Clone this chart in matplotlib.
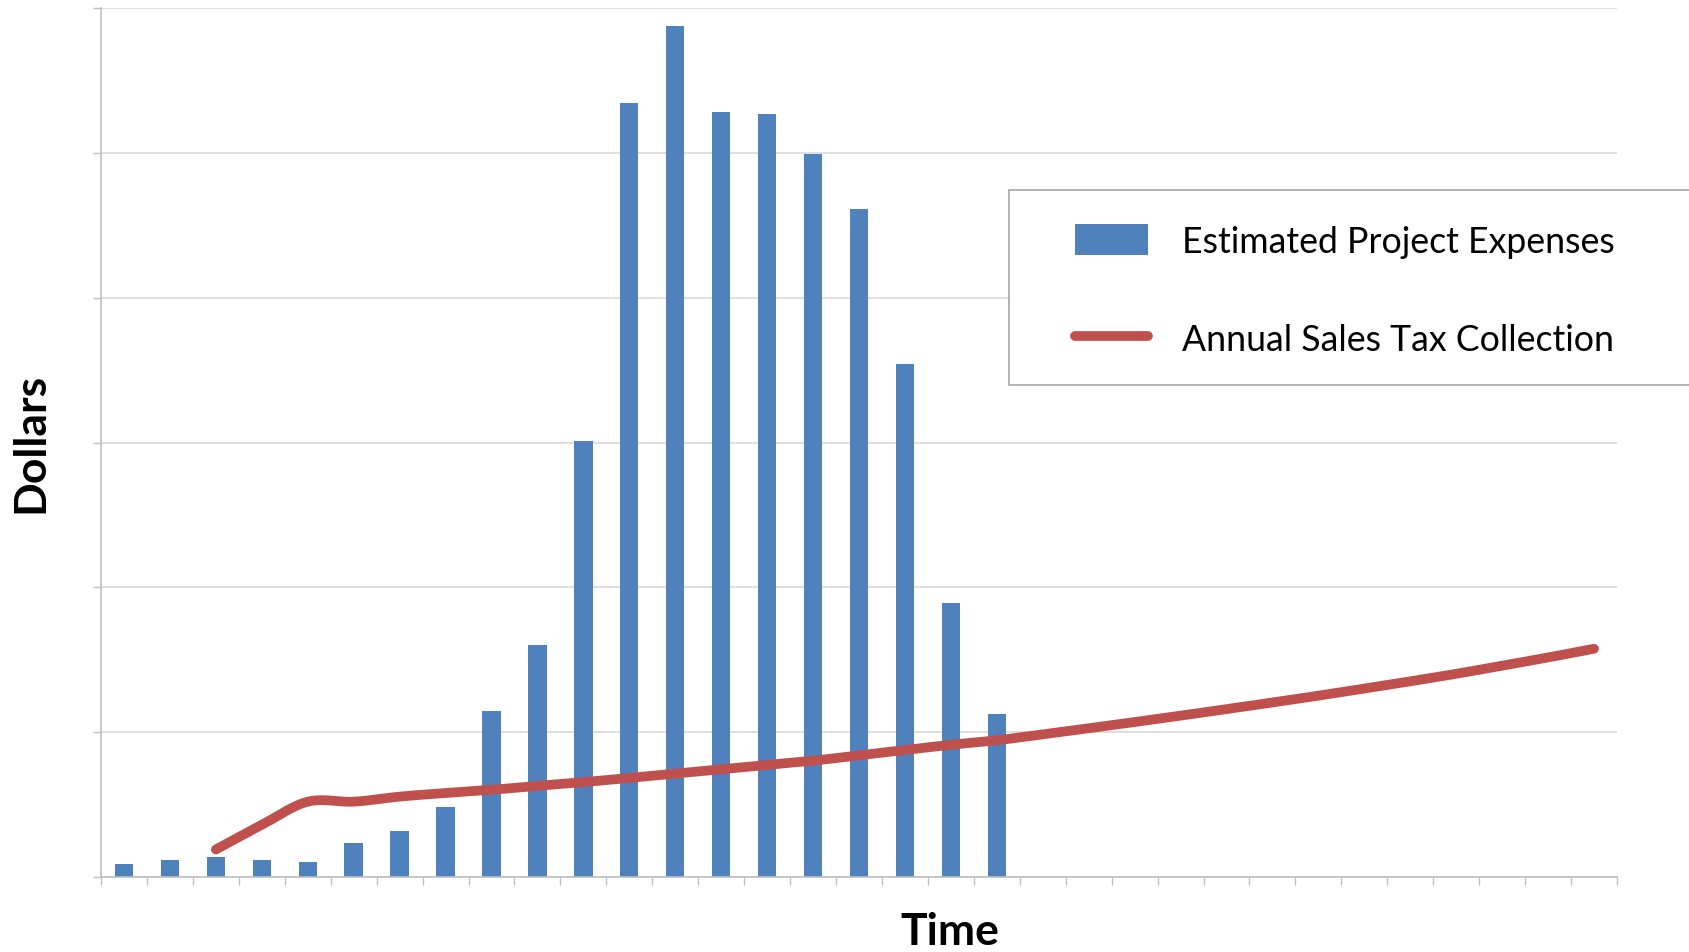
import numpy as np
import matplotlib
matplotlib.use("Agg")
import matplotlib.pyplot as plt
from matplotlib.patches import Rectangle

# categories are unlabeled time periods
periods = np.arange(1, 34)

# bars: estimated project expenses (first 20 periods), in gridline units
expenses = [0.09, 0.12, 0.14, 0.115, 0.105, 0.235, 0.315, 0.48, 1.145, 1.6,
            3.01, 5.345, 5.875, 5.28, 5.265, 4.995, 4.615, 3.54, 1.895, 1.125]

# line: annual sales tax collection, periods 3..33
tax_start = 3
tax = [0.19, 0.36, 0.52, 0.52, 0.555, 0.58, 0.602, 0.63, 0.655, 0.684,
       0.714, 0.743, 0.773, 0.803, 0.84, 0.877, 0.913, 0.944, 0.985, 1.027,
       1.07, 1.114, 1.159, 1.205, 1.252, 1.301, 1.351, 1.403, 1.459, 1.516, 1.576]

bar_color = '#4F81BD'
line_color = '#C0504D'
grid_color = '#D9D9D9'


def smooth(x, y, n=16):
    # catmull-rom, roughly what excel does for "smoothed line"
    x = np.asarray(x, float)
    y = np.asarray(y, float)
    px = np.concatenate([[2 * x[0] - x[1]], x, [2 * x[-1] - x[-2]]])
    py = np.concatenate([[2 * y[0] - y[1]], y, [2 * y[-1] - y[-2]]])
    out_x, out_y = [], []
    t = np.linspace(0, 1, n, endpoint=False)
    for i in range(1, len(px) - 2):
        for p, out in ((px, out_x), (py, out_y)):
            p0, p1, p2, p3 = p[i - 1], p[i], p[i + 1], p[i + 2]
            out.extend(0.5 * (2 * p1 + (-p0 + p2) * t
                              + (2 * p0 - 5 * p1 + 4 * p2 - p3) * t ** 2
                              + (-p0 + 3 * p1 - 3 * p2 + p3) * t ** 3))
    out_x.append(x[-1])
    out_y.append(y[-1])
    return out_x, out_y


plt.rcParams['font.family'] = ['Lato', 'DejaVu Sans']

fig = plt.figure(figsize=(16.9, 9.53), dpi=100)
ax = fig.add_axes([101 / 1690, 75 / 953, 1516 / 1690, 869 / 953])

bars = ax.bar(periods[:len(expenses)], expenses, width=0.4, color=bar_color,
              label='Estimated Project Expenses', zorder=2)

tx = periods[tax_start - 1:tax_start - 1 + len(tax)]
sx, sy = smooth(tx, tax)
line, = ax.plot(sx, sy, color=line_color, lw=7, solid_capstyle='round',
                label='Annual Sales Tax Collection', zorder=3)

ax.set_xlim(0.5, 33.5)
ax.set_ylim(0, 6)
ax.set_yticks(np.arange(0, 7))
ax.set_xticks(np.arange(0.5, 34.5, 1))
ax.set_xticklabels([])
ax.set_yticklabels([])
ax.tick_params(axis='both', direction='out', length=6, width=1, color='#BFBFBF')
ax.grid(axis='y', color=grid_color, lw=1.2, zorder=0)
ax.set_axisbelow(True)
for s in ['top', 'right']:
    ax.spines[s].set_visible(False)
for s in ['left', 'bottom']:
    ax.spines[s].set_color('#BFBFBF')
    ax.spines[s].set_linewidth(1.2)

fig.text(30 / 1690, 1 - 443 / 953, 'Dollars', rotation=90, ha='center',
         va='center', fontsize=32, fontweight='bold')
fig.text(950 / 1690, 1 - 932 / 953, 'Time', ha='center', va='center',
         fontsize=32, fontweight='bold')

# legend frame runs off the right edge of the picture
fig.patches.append(Rectangle((1009 / 1690, 1 - 386 / 953), 700 / 1690, 195 / 953,
                             transform=fig.transFigure, facecolor='white',
                             edgecolor='#A6A6A6', lw=1.2, zorder=5))
leg = fig.legend([bars, line], ['Estimated Project Expenses', 'Annual Sales Tax Collection'],
                 loc='upper left', bbox_to_anchor=(1043 / 1690, 1 - 193 / 953),
                 borderaxespad=0, fontsize=25.7, frameon=False,
                 handlelength=2.05, handleheight=0.95, handletextpad=0.95,
                 labelspacing=1.8, borderpad=0.9)
leg.set_zorder(6)

fig.savefig('out.png', dpi=100)
